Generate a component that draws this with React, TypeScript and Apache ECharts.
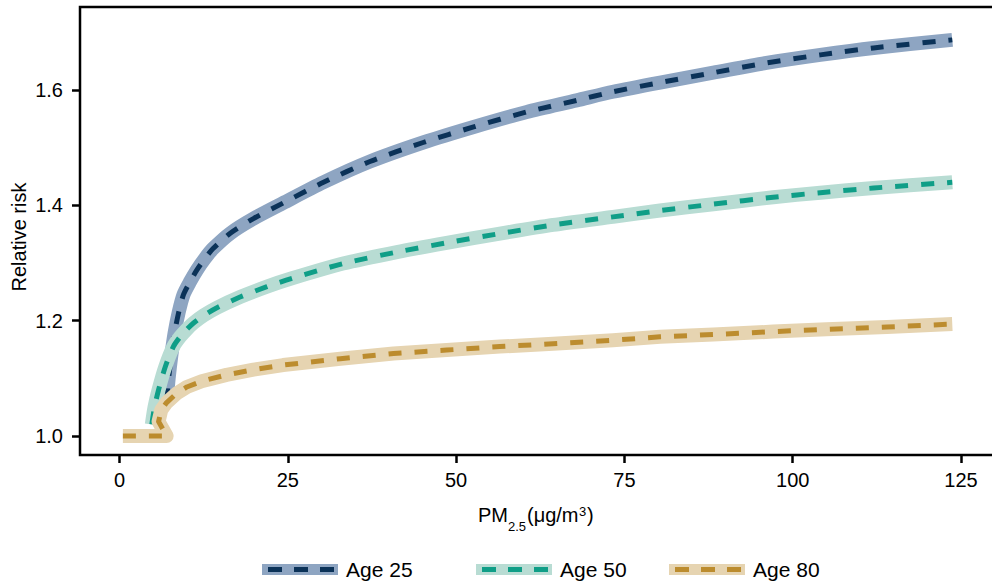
import React, { useEffect, useRef } from "react";
import * as echarts from "echarts";

const seriesNames = ["Age 25", "Age 50", "Age 80"];
const bandColors = ["#8ea5c2", "#b8dcd3", "#e6d4b1"];
const dashColors = ["#0b3258", "#0f9e87", "#bc8c2e"];

const xTicks = [0, 25, 50, 75, 100, 125];
const yTicks = [1.0, 1.2, 1.4, 1.6];

const age25: [number, number][] = [
  [7.0, 1.06], [7.3, 1.10], [7.7, 1.14], [8.2, 1.18],
  [8.8, 1.215], [9.5, 1.245], [10.5, 1.268], [11.5, 1.288], [12.7, 1.308],
  [13.9, 1.325], [16.5, 1.352], [19.9, 1.377], [24.3, 1.404], [30.3, 1.44],
  [37.2, 1.476], [45.1, 1.509], [52.6, 1.536], [60.5, 1.562], [67.9, 1.582],
  [73.3, 1.597], [80.3, 1.613], [88.2, 1.63], [96.1, 1.647], [104.1, 1.661],
  [112, 1.673], [123.7, 1.687],
];

const age50: [number, number][] = [
  [4.8, 1.02], [5.2, 1.05], [5.8, 1.08], [6.8, 1.12], [8.0, 1.155], [9.0, 1.172],
  [10, 1.185], [11, 1.196], [12.5, 1.209], [14.4, 1.222], [17.9, 1.241],
  [21.9, 1.259], [25.5, 1.273], [33.2, 1.299], [41.2, 1.319], [48.6, 1.335],
  [56.5, 1.351], [64.4, 1.366], [73.3, 1.38], [80.3, 1.391], [88.2, 1.402],
  [97.1, 1.414], [104.1, 1.422], [112, 1.43], [123.7, 1.44],
];

const age80: [number, number][] = [
  [0.5, 1.0], [7.0, 1.0], [5.8, 1.025], [6.2, 1.045], [7.0, 1.058], [8.5, 1.074],
  [10, 1.085], [12.2, 1.095], [15.9, 1.106], [19.9, 1.115], [24.3, 1.123],
  [32.8, 1.134], [40.7, 1.143], [48.6, 1.149], [56.5, 1.155], [64.4, 1.16],
  [73.3, 1.166], [80.3, 1.172], [88.2, 1.176], [97.1, 1.181], [105, 1.185],
  [114, 1.189], [123.7, 1.194],
];

const allData = [age25, age50, age80];
const smoothness = [0.25, 0.25, 0];
const legendX = [262, 476, 669];

const FONT = "Liberation Sans, Arial, Helvetica, sans-serif";

export default function App() {
  const ref = useRef<HTMLDivElement>(null);

  useEffect(() => {
    if (!ref.current) return;
    const chart = echarts.init(ref.current, null, { renderer: "svg" });

    const series: any[] = [];
    allData.forEach((d, i) => {
      series.push({
        type: "line",
        name: seriesNames[i] + " band",
        data: d,
        symbol: "none",
        showSymbol: false,
        silent: true,
        smooth: smoothness[i],
        lineStyle: { width: 14, color: bandColors[i], cap: "butt", join: "round" },
      });
      series.push({
        type: "line",
        name: seriesNames[i],
        data: d,
        symbol: "none",
        showSymbol: false,
        silent: true,
        smooth: smoothness[i],
        lineStyle: { width: 5, color: dashColors[i], type: [13, 13], cap: "butt", join: "round" },
      });
    });

    const graphics: any[] = [];
    legendX.forEach((lx, i) => {
      graphics.push({
        type: "rect",
        shape: { x: lx, y: 564, width: 76, height: 11 },
        style: { fill: bandColors[i] },
      });
      [6, 32, 58].forEach((o) => {
        graphics.push({
          type: "rect",
          shape: { x: lx + o, y: 567, width: 14, height: 5 },
          style: { fill: dashColors[i] },
        });
      });
      graphics.push({
        type: "text",
        x: lx + 84,
        y: 569,
        style: {
          text: seriesNames[i],
          fontSize: 21,
          fontFamily: FONT,
          fill: "#000",
          align: "left",
          verticalAlign: "middle",
        },
      });
    });

    graphics.push({
      type: "text",
      x: 19,
      y: 237,
      rotation: Math.PI / 2,
      style: {
        text: "Relative risk",
        fontSize: 20,
        fontFamily: FONT,
        fill: "#000",
        align: "center",
        verticalAlign: "middle",
      },
    });

    const base = 525;
    graphics.push(
      { type: "text", x: 478, y: base, style: { text: "PM", fontSize: 20, fontFamily: FONT, fill: "#000", align: "left", verticalAlign: "bottom" } },
      { type: "text", x: 508, y: base + 8, style: { text: "2.5", fontSize: 13, fontFamily: FONT, fill: "#000", align: "left", verticalAlign: "bottom" } },
      { type: "text", x: 527, y: base, style: { text: "(μg/m", fontSize: 20, fontFamily: FONT, fill: "#000", align: "left", verticalAlign: "bottom" } },
      { type: "text", x: 579, y: base - 7, style: { text: "3", fontSize: 13, fontFamily: FONT, fill: "#000", align: "left", verticalAlign: "bottom" } },
      { type: "text", x: 587, y: base, style: { text: ")", fontSize: 20, fontFamily: FONT, fill: "#000", align: "left", verticalAlign: "bottom" } }
    );

    chart.setOption({
      animation: false,
      backgroundColor: "#fff",
      grid: {
        left: 80,
        top: 7,
        width: 982,
        height: 448,
        show: true,
        borderColor: "#000",
        borderWidth: 2.5,
        backgroundColor: "transparent",
        containLabel: false,
        outerBoundsMode: "none",
      },
      xAxis: {
        type: "value",
        min: -5.87,
        max: 140,
        splitLine: { show: false },
        axisLine: { show: false, onZero: false },
        axisTick: { show: true, length: 8, lineStyle: { color: "#000", width: 2.5 }, customValues: xTicks },
        axisLabel: { fontSize: 20, fontFamily: FONT, color: "#000", margin: 15, customValues: xTicks },
      },
      yAxis: {
        type: "value",
        min: 0.967,
        max: 1.744,
        splitLine: { show: false },
        axisLine: { show: false, onZero: false },
        axisTick: { show: true, length: 8, lineStyle: { color: "#000", width: 2.5 }, customValues: yTicks },
        axisLabel: {
          fontSize: 20,
          fontFamily: FONT,
          color: "#000",
          margin: 17,
          customValues: yTicks,
          formatter: (v: number) => v.toFixed(1),
        },
      },
      series,
      graphic: graphics,
    });

    return () => chart.dispose();
  }, []);

  return (
    <div style={{ position: "absolute", left: 0, top: 0, width: 992, height: 584, overflow: "hidden", background: "#fff" }}>
      <div ref={ref} style={{ width: 1100, height: 584 }} />
    </div>
  );
}
